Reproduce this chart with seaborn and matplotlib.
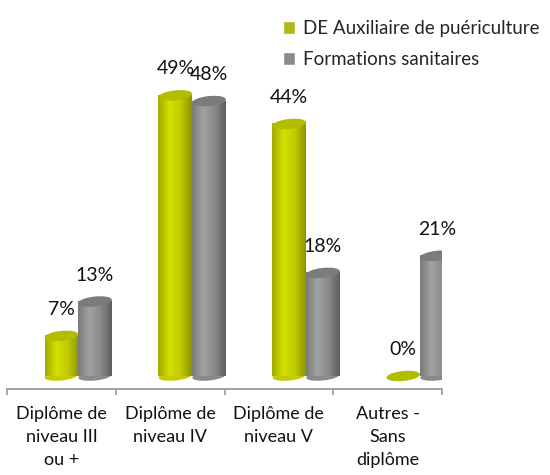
import numpy as np
import pandas as pd
import matplotlib
matplotlib.use("Agg")
import matplotlib.pyplot as plt
import seaborn as sns
from matplotlib.patches import Ellipse
from matplotlib.colors import LinearSegmentedColormap
from matplotlib.transforms import IdentityTransform

# ===============================
# DATA
# ===============================
categories = ["Diplôme de\nniveau III\nou +", "Diplôme de\nniveau IV",
              "Diplôme de\nniveau V", "Autres -\nSans\ndiplôme"]
series = ["DE Auxiliaire de puériculture", "Formations sanitaires"]
de_aux = [7, 49, 44, 0]
form_san = [13, 48, 18, 21]

colors = ["#c6d200", "#8c8c8c"]
grad_colors = [["#a2ab00", "#d4e000", "#c2cc00", "#8e9500"],
               ["#7a7a7a", "#a2a2a2", "#8a8a8a", "#5e5e5e"]]
top_colors = ["#b3bd00", "#7b7b7b"]

df = pd.DataFrame({
    "cat": categories * 2,
    "serie": [series[0]] * len(categories) + [series[1]] * len(categories),
    "val": de_aux + form_san,
})

# ===============================
# FIGURE
# ===============================
sns.set_style("white")
plt.rcParams['font.family'] = ['Lato', 'DejaVu Sans']

fig = plt.figure(figsize=(5.5, 4.75), dpi=100)
ax = fig.add_axes([7 / 550, 86 / 475, 435 / 550, 379 / 475])

sns.barplot(data=df, x="cat", y="val", hue="serie", palette=colors,
            width=0.62, ax=ax)
ax.set_xlim(-0.5, 3.5)
ax.set_ylim(-2.27, 63.9)
fig.canvas.draw()

# 3D-ish cylinders: shift for perspective, gradient body, ellipse caps
for s, cont in enumerate(ax.containers):
    cmap = LinearSegmentedColormap.from_list("c%d" % s, grad_colors[s])
    for i, bar in enumerate(cont):
        bar.set_x(bar.get_x() + 0.155 + 0.048 * i)
        x0, w, h = bar.get_x(), bar.get_width(), bar.get_height()
        bar.set_visible(False)
        xc = x0 + w / 2
        wpx = w * (ax.transData.transform((1, 0))[0] - ax.transData.transform((0, 0))[0])
        base = ax.transData.transform((xc, 0))
        top = ax.transData.transform((xc, h))
        if h > 0:
            grad = np.linspace(0, 1, 64).reshape(1, -1)
            ax.imshow(grad, cmap=cmap, extent=(x0, x0 + w, 0, h),
                      aspect="auto", zorder=2, interpolation="bilinear")
            ax.add_patch(Ellipse(base, wpx, 9, angle=6, transform=IdentityTransform(),
                                 facecolor=grad_colors[s][2], edgecolor="none", zorder=1.9))
        ax.add_patch(Ellipse(top, wpx, 10, angle=6, transform=IdentityTransform(),
                             facecolor=top_colors[s], edgecolor="none", zorder=3))
        ax.annotate(f"{h:.0f}%", (xc, h), xytext=(0, 19), textcoords="offset points",
                    ha="center", va="center", fontsize=14, color="#111111")

ax.set_aspect("auto")
ax.set_xlim(-0.5, 3.5)
ax.set_ylim(-2.27, 63.9)

# axes styling
for sp in ["left", "right", "top"]:
    ax.spines[sp].set_visible(False)
ax.spines["bottom"].set_color("#9a9a9a")
ax.spines["bottom"].set_linewidth(1.3)
ax.set_yticks([])
ax.set_xlabel("")
ax.set_ylabel("")
ax.set_xticks(range(len(categories)))
ax.set_xticklabels(categories, fontsize=13, linespacing=1.55)
ax.set_xticks(np.arange(-0.5, len(categories)), minor=True)
ax.tick_params(axis="x", which="major", bottom=True, length=0, pad=12, colors="#111111")
ax.tick_params(axis="x", which="minor", bottom=True, length=4.5, width=1.2,
               color="#9a9a9a", direction="out")

# legend
handles, labels = ax.get_legend_handles_labels()
ax.legend(handles, labels, loc="upper left", bbox_to_anchor=(266 / 550, 1 - 3 / 475),
          bbox_transform=fig.transFigure, frameon=False, fontsize=13.5,
          handlelength=0.65, handleheight=0.65, handletextpad=0.4, labelspacing=0.75)

fig.savefig("out.png", dpi=100)
